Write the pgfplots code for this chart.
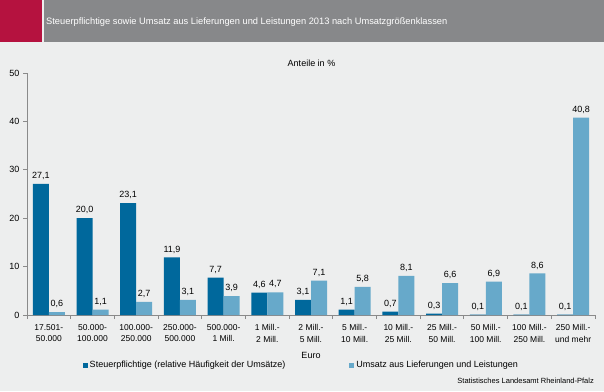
\documentclass[border=0pt]{standalone}
\usepackage{pgfplots}
\pgfplotsset{compat=1.18}
\usepackage{fontspec}
\setmainfont{Liberation Sans}
\definecolor{bg}{HTML}{EDEEEE}
\definecolor{titlegrey}{HTML}{87888A}
\definecolor{titlered}{HTML}{B5123F}
\definecolor{darkb}{HTML}{00689C}
\definecolor{lightb}{HTML}{67A9CA}
\definecolor{axgrey}{HTML}{8A8A8A}
\begin{document}
\begin{tikzpicture}[x=1pt,y=1pt]
\fill[bg] (0,0) rectangle (604,391);
\fill[titlered] (0,349) rectangle (42,391);
\fill[titlegrey] (44,349) rectangle (604,391);
\node[anchor=west,text=white,font=\fontsize{9.3}{11}\selectfont,inner sep=0pt] at (46,369) {Steuerpflichtige sowie Umsatz aus Lieferungen und Leistungen 2013 nach Umsatzgrößenklassen};
\node[font=\fontsize{9}{11}\selectfont,inner sep=0pt] at (311.5,328) {Anteile in \%};
\node[anchor=east,font=\fontsize{7.5}{9}\selectfont,inner sep=0pt] at (594,10) {Statistisches Landesamt Rheinland-Pfalz};
\begin{axis}[
  at={(27pt,76pt)}, anchor=south west,
  scale only axis, width=568pt, height=242pt,
  xmin=-0.5, xmax=12.5, ymin=0, ymax=50,
  ybar=0pt, bar width=16pt,
  axis x line*=bottom, axis y line*=left,
  axis line style={axgrey, line width=1pt},
  every outer x axis line/.append style={-}, every outer y axis line/.append style={-},
  ytick={0,10,20,30,40,50},
  xtick={0,...,12}, major x tick style={draw=none},
  minor xtick={-0.5,0.5,...,12.5},
  minor x tick style={axgrey, line width=1pt},
  minor tick length=4pt,
  major y tick style={axgrey, line width=1pt},
  major tick length=4pt,
  tick align=outside, tick pos=lower,
  xticklabels={{17.501-\\50.000},{50.000-\\100.000},{100.000-\\250.000},{250.000-\\500.000},{500.000-\\1 Mill.},{1 Mill.-\\2 Mill.},{2 Mill.-\\5 Mill.},{5 Mill.-\\10 Mill.},{10 Mill.-\\25 Mill.},{25 Mill.-\\50 Mill.},{50 Mill.-\\100 Mill.},{100 Mill.-\\250 Mill.},{250 Mill.-\\und mehr}},
  xticklabel style={align=center, font=\fontsize{8.5}{11.5}\selectfont, yshift=-2pt},
  yticklabel style={font=\fontsize{9}{11}\selectfont},
  /pgf/number format/assume math mode=true,
  xlabel={Euro}, xlabel style={font=\fontsize{9}{11}\selectfont, yshift=-3pt},
  nodes near coords={\pgfmathprintnumber[fixed,fixed zerofill,precision=1,use comma]{\pgfplotspointmeta}},
  every node near coord/.append style={font=\fontsize{9}{11}\selectfont, black, inner sep=2pt, yshift=2pt},
  legend columns=2,
  legend style={at={(0.483,-0.2066)}, anchor=center, draw=none, fill=none, font=\fontsize{9}{11}\selectfont, /tikz/every even column/.append style={column sep=62pt}},
  legend image code/.code={\fill[#1] (2pt,-2.5pt) rectangle (7pt,2.5pt);},
]
\addplot[fill=darkb, draw=none] coordinates {(0,27.1) (1,20.0) (2,23.1) (3,11.9) (4,7.7) (5,4.6) (6,3.1) (7,1.1) (8,0.7) (9,0.3) (10,0.1) (11,0.1) (12,0.1)};
\addplot[fill=lightb, draw=none] coordinates {(0,0.6) (1,1.1) (2,2.7) (3,3.1) (4,3.9) (5,4.7) (6,7.1) (7,5.8) (8,8.1) (9,6.6) (10,6.9) (11,8.6) (12,40.8)};
\legend{Steuerpflichtige (relative Häufigkeit der Umsätze), Umsatz aus Lieferungen und Leistungen}
\end{axis}
\end{tikzpicture}
\end{document}
